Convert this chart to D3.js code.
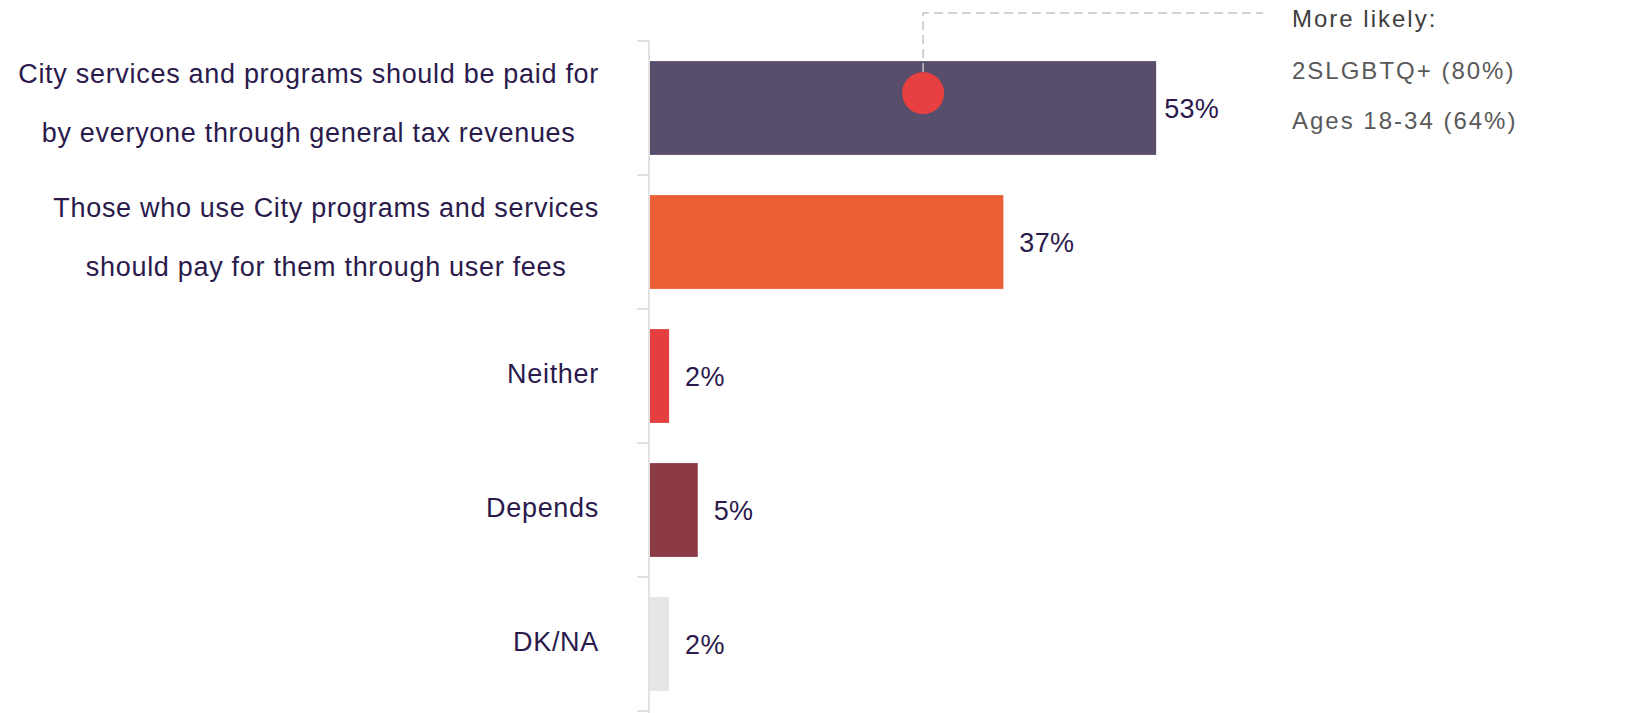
<!DOCTYPE html>
<html>
<head>
<meta charset="utf-8">
<script src="https://cdn.jsdelivr.net/npm/d3@7"></script>
<style>
  html, body { margin: 0; padding: 0; background: #fff; }
  svg { display: block; }
  text { font-family: "Liberation Sans", Arial, Helvetica, sans-serif; }
</style>
</head>
<body>
<svg id="chart" width="1637" height="713"></svg>
<script>
// Survey responses: how City services and programs should be paid for
const categories = [
  ["City services and programs should be paid for", "by everyone through general tax revenues"],
  ["Those who use City programs and services", "should pay for them through user fees"],
  ["Neither"],
  ["Depends"],
  ["DK/NA"]
];
const values = [53, 37, 2, 5, 2];
const barColors = ["#594d6c", "#ec5e34", "#e53e3e", "#8b3a46", "#e6e6e6"];

// Call-out on the first bar
const calloutValue = 28.6;
const calloutLines = ["More likely:", "2SLGBTQ+ (80%)", "Ages 18-34 (64%)"];

const svg = d3.select("#chart");
const keys = categories.map((c, i) => i);

const x = d3.scaleLinear().domain([0, 100]).range([650, 1605]);
const y = d3.scaleBand().domain(keys).range([41, 711]).paddingInner(0.3).paddingOuter(0.15);

const textColor = "#2b1a4c";
const axisColor = "#d9d9d9";

// Category axis: vertical rule with ticks at band boundaries
const axisX = x(0) - 1;
svg.append("line")
  .attr("x1", axisX).attr("x2", axisX)
  .attr("y1", y.range()[0]).attr("y2", 713)
  .attr("stroke", axisColor).attr("stroke-width", 1.5);

const boundaries = d3.range(keys.length + 1).map(i => y.range()[0] + i * y.step());
svg.selectAll("line.tick").data(boundaries).join("line")
  .attr("class", "tick")
  .attr("x1", axisX - 12).attr("x2", axisX)
  .attr("y1", d => d).attr("y2", d => d)
  .attr("stroke", axisColor).attr("stroke-width", 1.5);

// Bars
svg.selectAll("rect.bar").data(keys).join("rect")
  .attr("class", "bar")
  .attr("x", x(0))
  .attr("y", d => y(d))
  .attr("width", d => x(values[d]) - x(0))
  .attr("height", y.bandwidth())
  .attr("fill", d => barColors[d]);

// Value labels
svg.selectAll("text.value").data(keys).join("text")
  .attr("class", "value")
  .attr("x", d => x(values[d]) + (d === 0 ? 8 : 16))
  .attr("y", d => y(d) + y.bandwidth() / 2 + 10)
  .attr("font-size", 27)
  .attr("letter-spacing", 0.3)
  .attr("fill", textColor)
  .text(d => values[d] + "%");

// Category labels: block right-aligned to the axis, lines centred inside the block
const labelRight = 599;
keys.forEach(k => {
  const lines = categories[k];
  const cy = y(k) + y.bandwidth() / 2;
  const g = svg.append("g");
  const texts = lines.map((line, i) => {
    const by = lines.length === 1 ? cy + 6.5 : cy - 25 + i * 59;
    return g.append("text")
      .attr("y", by)
      .attr("font-size", 27)
      .attr("letter-spacing", 0.7)
      .attr("fill", textColor)
      .attr("text-anchor", "middle")
      .text(line);
  });
  const maxW = d3.max(texts, t => t.node().getComputedTextLength());
  texts.forEach(t => t.attr("x", labelRight - maxW / 2));
});

// Call-out marker and dashed leader
const cx = x(calloutValue);
const cyDot = y(0) + 32;
svg.append("path")
  .attr("d", `M${cx},${cyDot - 21} V13 H1263`)
  .attr("fill", "none")
  .attr("stroke", "#c4c4c4")
  .attr("stroke-width", 1.5)
  .attr("stroke-dasharray", "9,5");
svg.append("circle")
  .attr("cx", cx).attr("cy", cyDot).attr("r", 21)
  .attr("fill", "#e84040");

svg.selectAll("text.callout").data(calloutLines).join("text")
  .attr("class", "callout")
  .attr("x", 1292)
  .attr("y", (d, i) => [27, 79, 129][i])
  .attr("font-size", 24)
  .attr("letter-spacing", 2)
  .attr("fill", (d, i) => i === 0 ? "#404040" : "#595959")
  .text(d => d);
</script>
</body>
</html>
